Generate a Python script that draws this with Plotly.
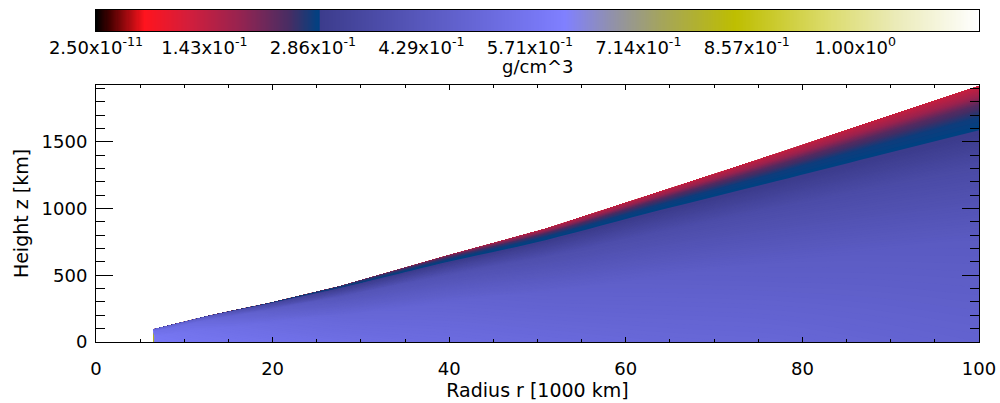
import numpy as np
import plotly.graph_objects as go

# ---------------- data ----------------
# radius of the grid columns [1000 km]
radius = [6.5, 6.6, 10, 12.5, 15, 19.5, 27.6, 40, 51, 64, 77, 88, 100]
# height of the disc surface at each radius [km]
surface_z = [95, 97, 152, 193, 228, 290, 418, 651, 850, 1130, 1410, 1653, 1918]
# thickness of the low-density surface layer (above the sharp blue edge) [km]
band_thickness = [2, 2, 3, 4, 5, 8, 20, 55, 95, 155, 225, 290, 363]

# density [g/cm^3] in each column, from the midplane up to the surface:
# rows = bottom, 0.5*edge, 0.85*edge, edge, band 35%, band 60%, band 80%, surface
density_cols = [
    [0.85, 0.84, 0.62, 0.52, 0.48, 0.45, 0.42, 0.40],     # r = 6.5 (yellow rim)
    [0.585, 0.575, 0.55, 0.50, 0.45, 0.40, 0.35, 0.30],   # 6.6
    [0.575, 0.56, 0.53, 0.47, 0.42, 0.36, 0.32, 0.29],    # 10
    [0.57, 0.55, 0.51, 0.44, 0.38, 0.33, 0.30, 0.29],     # 12.5
    [0.565, 0.54, 0.49, 0.41, 0.35, 0.31, 0.295, 0.29],   # 15
    [0.555, 0.525, 0.46, 0.36, 0.30, 0.295, 0.29, 0.285], # 19.5
    [0.54, 0.50, 0.42, 0.31, 0.29, 0.28, 0.275, 0.27],    # 27.6
    [0.525, 0.485, 0.40, 0.297, 0.288, 0.27, 0.24, 0.20], # 40
    [0.515, 0.47, 0.385, 0.297, 0.287, 0.255, 0.20, 0.16],# 51
    [0.505, 0.46, 0.375, 0.297, 0.286, 0.25, 0.19, 0.145],# 64
    [0.50, 0.45, 0.37, 0.297, 0.285, 0.245, 0.185, 0.14], # 77
    [0.49, 0.445, 0.365, 0.297, 0.285, 0.245, 0.185, 0.14],# 88
    [0.48, 0.44, 0.36, 0.297, 0.285, 0.245, 0.18, 0.135], # 100
]
# relative position of each row: (fraction of edge height, fraction of band thickness)
row_edge_frac = [0.0, 0.5, 0.85, 1.0, 1.0, 1.0, 1.0, 1.0]
row_band_frac = [0.0, 0.0, 0.0, 0.0, 0.35, 0.6, 0.8, 1.0]

# colour bar
cbar_max = 1.163
cbar_tickvals = [0.0, 1/7, 2/7, 3/7, 4/7, 5/7, 6/7, 1.0]
cbar_ticktext = ["2.50x10<sup>-11</sup>", "1.43x10<sup>-1</sup>", "2.86x10<sup>-1</sup>",
                 "4.29x10<sup>-1</sup>", "5.71x10<sup>-1</sup>", "7.14x10<sup>-1</sup>",
                 "8.57x10<sup>-1</sup>", "1.00x10<sup>0</sup>"]
cbar_title = "g/cm^3"
x_title = "Radius r [1000 km]"
y_title = "Height z [km]"
x_range = [0, 100]
y_range = [0, 1925]

# colour table (positions on the bar, 0..1)
colorscale = [
    [0.0, "rgb(0,0,0)"],
    [0.016, "rgb(70,0,0)"],
    [0.055, "rgb(255,20,30)"],
    [0.106, "rgb(210,30,60)"],
    [0.163, "rgb(150,35,80)"],
    [0.220, "rgb(70,45,100)"],
    [0.2525, "rgb(0,65,130)"],
    [0.2535, "rgb(60,60,140)"],
    [0.503, "rgb(120,120,245)"],
    [0.531, "rgb(128,128,255)"],
    [0.585, "rgb(145,145,170)"],
    [0.642, "rgb(165,165,90)"],
    [0.724, "rgb(190,190,0)"],
    [0.831, "rgb(220,220,110)"],
    [0.907, "rgb(235,235,185)"],
    [1.0, "rgb(255,255,255)"],
]

# ---------------- grid ----------------
nrows = len(row_edge_frac)
X = [[radius[i] for i in range(len(radius))] for j in range(nrows)]
Y = []
for j in range(nrows):
    row = []
    for i in range(len(radius)):
        edge = surface_z[i] - band_thickness[i]
        row.append(edge * row_edge_frac[j] + band_thickness[i] * row_band_frac[j])
    Y.append(row)
Z = [[density_cols[i][j] for i in range(len(radius))] for j in range(nrows)]
b_idx = list(range(nrows))

FONT = dict(family="DejaVu Sans", size=18, color="black")
TFONT = dict(family="DejaVu Sans", size=19, color="black")

fig = go.Figure()

hidden_axis = dict(smoothing=0, showgrid=False, showline=False, showticklabels="none",
                   startline=False, endline=False, minorgridcount=0,
                   gridcolor="rgba(0,0,0,0)", linecolor="rgba(0,0,0,0)")
fig.add_trace(go.Carpet(a=radius, b=b_idx, x=X, y=Y, carpet="c1",
                        aaxis=hidden_axis, baxis=hidden_axis,
                        xaxis="x", yaxis="y"))
fig.add_trace(go.Contourcarpet(a=radius, b=b_idx, z=Z, carpet="c1",
                               autocontour=False,
                               contours=dict(start=0, end=cbar_max, size=0.003,
                                             coloring="fill", showlines=False),
                               line=dict(width=0),
                               colorscale=colorscale, zmin=0, zmax=cbar_max,
                               showscale=False, xaxis="x", yaxis="y"))

# colour bar as its own strip
cb_vals = np.linspace(0, cbar_max, 800)
fig.add_trace(go.Heatmap(z=[cb_vals], x=cb_vals, y=[0.5], colorscale=colorscale,
                         zmin=0, zmax=cbar_max, showscale=False,
                         xaxis="x2", yaxis="y2", hoverinfo="skip"))

# invisible trace that carries the framed axes drawn on top of the image
fig.add_trace(go.Scatter(x=[x_range[0]], y=[y_range[0]], mode="markers",
                         marker=dict(opacity=0), hoverinfo="skip",
                         xaxis="x3", yaxis="y3"))

bare = dict(showline=False, showticklabels=False, ticks="", showgrid=False,
            zeroline=False, automargin=False)

fig.update_layout(
    width=1000, height=403,
    margin=dict(l=96, r=21, t=10, b=61, autoexpand=False),
    paper_bgcolor="white", plot_bgcolor="white",
    font=FONT, showlegend=False,
    xaxis=dict(domain=[0, 1], anchor="y", range=x_range, **bare),
    yaxis=dict(domain=[0, 0.774], anchor="x", range=y_range, **bare),
    xaxis3=dict(overlaying="x", anchor="y3", side="bottom", range=x_range,
                tick0=0, dtick=20,
                ticks="inside", ticklen=5, tickwidth=1, tickcolor="black",
                minor=dict(ticks="inside", dtick=5, ticklen=3, tickcolor="black"),
                showline=True, linecolor="black", linewidth=1, mirror="ticks",
                showgrid=False, zeroline=False, ticklabelstandoff=10, automargin=False,
                title=dict(text=x_title, font=TFONT, standoff=3)),
    yaxis3=dict(overlaying="y", anchor="x3", side="left", range=y_range,
                tick0=0, dtick=500, tickformat="d",
                ticks="inside", ticklen=17, tickwidth=1, tickcolor="black",
                minor=dict(ticks="inside", dtick=100, ticklen=9, tickcolor="black"),
                showline=True, linecolor="black", linewidth=1, mirror="ticks",
                showgrid=False, zeroline=False, ticklabelstandoff=4, automargin=False,
                title=dict(text=y_title, font=TFONT, standoff=7)),
    xaxis2=dict(domain=[0, 1], anchor="y2", range=[0, cbar_max],
                tickmode="array", tickvals=cbar_tickvals, ticktext=cbar_ticktext,
                ticks="", showline=True, linecolor="black", linewidth=1, mirror=True,
                showgrid=False, zeroline=False, ticklabelstandoff=0, automargin=False),
    yaxis2=dict(domain=[0.9367, 1], anchor="x2", range=[0, 1], showticklabels=False,
                ticks="", showline=True, linecolor="black", linewidth=1, mirror=True,
                showgrid=False, zeroline=False, automargin=False),
    annotations=[dict(text=cbar_title, xref="x2 domain", yref="y2 domain",
                      x=0.5, y=-1.68, xanchor="center", yanchor="middle",
                      showarrow=False, font=FONT, borderpad=0)],
)

fig.write_html("out.html",
               config={"displayModeBar": False},
               post_script="document.body.style.margin='0px';"
                           "document.body.style.overflow='hidden';")
